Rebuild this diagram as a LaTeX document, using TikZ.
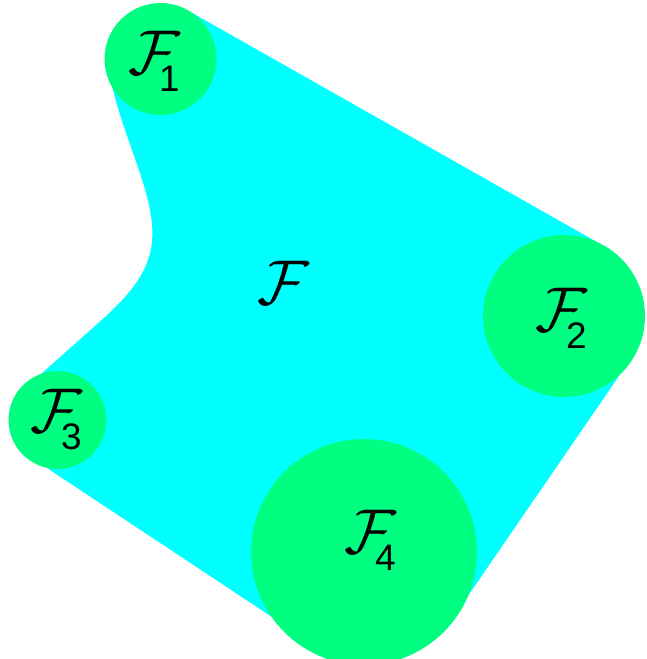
\RequirePackage{fix-cm}
\documentclass[tikz,border=0pt]{standalone}
\usepackage{fontspec}
\newfontfamily\digitfont{Liberation Sans}
\definecolor{regioncyan}{RGB}{0,255,255}
\definecolor{blobgreen}{RGB}{0,255,128}
\newcommand{\flab}[1]{$\mathcal{F}$\kern-12pt\raisebox{-10pt}{\fontsize{21}{25}\selectfont\digitfont #1}}
\tikzset{
  blob/.style={circle, fill=blobgreen, draw=none, inner sep=0pt},
  lbl/.style={font=\fontsize{36}{42}\selectfont, inner sep=0pt, anchor=base west}
}
\begin{document}
\begin{tikzpicture}[x=0.02cm, y=-0.02cm]
\useasboundingbox (0,0) rectangle (646,659);
% cyan region
\fill[regioncyan] (160.5,59) -- (193,13.4) -- (611,250) -- (564,316)
  -- (620,374.5) -- (442,633.6) -- (364,552) -- (340,662) -- (47,468)
  -- (57.5,420) -- (40,375) -- (105,317)
  .. controls (140,285) and (155,260) .. (152,225)
  .. controls (149,185) and (125,140) .. (112,86) -- cycle;
% blobs
\node[blob, minimum size=2.24cm] (f1) at (160.5,59) {};
\node[blob, minimum size=3.24cm] (f2) at (564,316) {};
\node[blob, minimum size=1.96cm] (f3) at (57.5,420) {};
\node[blob, minimum size=4.52cm] (f4) at (364,552) {};
% labels
\node[lbl] (l1) at (128,74) {\flab{1}};
\node[lbl] (l2) at (535,331) {\flab{2}};
\node[lbl] (l3) at (30,432) {\flab{3}};
\node[lbl] (l4) at (344,553) {\flab{4}};
\node[lbl] (f) at (257,304) {$\mathcal{F}$};
\end{tikzpicture}
\end{document}
